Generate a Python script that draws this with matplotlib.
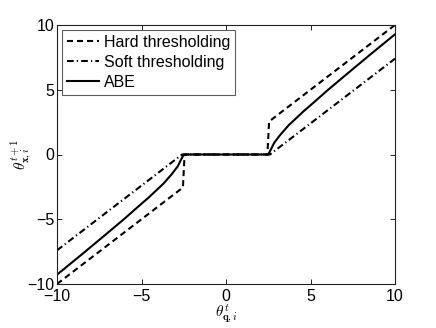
import matplotlib
matplotlib.use("Agg")
import matplotlib.pyplot as plt
import numpy as np

plt.rcParams['font.family'] = ['Liberation Sans', 'DejaVu Sans']
plt.rcParams['mathtext.fontset'] = 'cm'

# Hard thresholding curve
hard_x = [-10, -2.55, -2.45, 2.45, 2.55, 10]
hard_y = [-10, -2.55, 0, 0, 2.55, 10]

# Soft thresholding curve
soft_x = [-10, -2.6, 2.6, 10]
soft_y = [-7.4, 0, 0, 7.4]

abe_pos_x = [2.5, 2.7, 2.85, 3.2, 3.7, 4.6, 5.0, 6.0, 7.0, 8.5, 10.0]
abe_pos_y = [0.0, 0.5, 0.9, 1.5, 2.25, 3.35, 3.8, 4.95, 6.05, 7.68, 9.28]
abe_x = [-v for v in abe_pos_x[::-1]] + abe_pos_x
abe_y = [-v for v in abe_pos_y[::-1]] + abe_pos_y

xticks = [-10, -5, 0, 5, 10]
yticks = [-10, -5, 0, 5, 10]
tick_labels = ['\u221210', '\u22125', '0', '5', '10']

fig = plt.figure(figsize=(4.36, 3.28), dpi=100)
ax = fig.add_axes([57/436, 1-284/328, (395-57)/436, (284-25)/328])

lw = 1.5
ax.plot(hard_x, hard_y, color='black', lw=lw, linestyle=(0, (2.9, 1.9)), label='Hard thresholding')
ax.plot(soft_x, soft_y, color='black', lw=lw, linestyle=(0, (3.2, 1.5, 0.6, 1.5)), label='Soft thresholding')
ax.plot(abe_x, abe_y, color='black', lw=lw, linestyle='-', label='ABE')

ax.set_xlim(-10, 10)
ax.set_ylim(-10, 10)
ax.set_xticks(xticks)
ax.set_yticks(yticks)
ax.set_xticklabels(tick_labels)
ax.set_yticklabels(tick_labels)
ax.tick_params(direction='in', top=True, right=True, labelsize=11.5, length=3.5,
               width=0.6, pad=2, colors='black')
ax.tick_params(axis='x', pad=3.5)
for s in ax.spines.values():
    s.set_linewidth(0.8)
    s.set_color('#222222')

ax.set_xlabel(r'$\theta_{\mathbf{q},i}^{t}$', fontsize=11)
ax.set_ylabel(r'$\theta_{\mathbf{x},i}^{t+1}$', fontsize=11)
ax.xaxis.set_label_coords(0.5, (284 - 303) / 259)
ax.yaxis.set_label_coords((33 - 57) / 338, 0.5)

leg = ax.legend(loc='upper left', fontsize=11.5, frameon=True, fancybox=False,
                edgecolor='#333333', handlelength=2.0, handletextpad=0.35,
                labelspacing=0.32, borderpad=0.3, borderaxespad=0.3)
leg.get_frame().set_linewidth(0.8)

fig.savefig('out.png', dpi=100)
